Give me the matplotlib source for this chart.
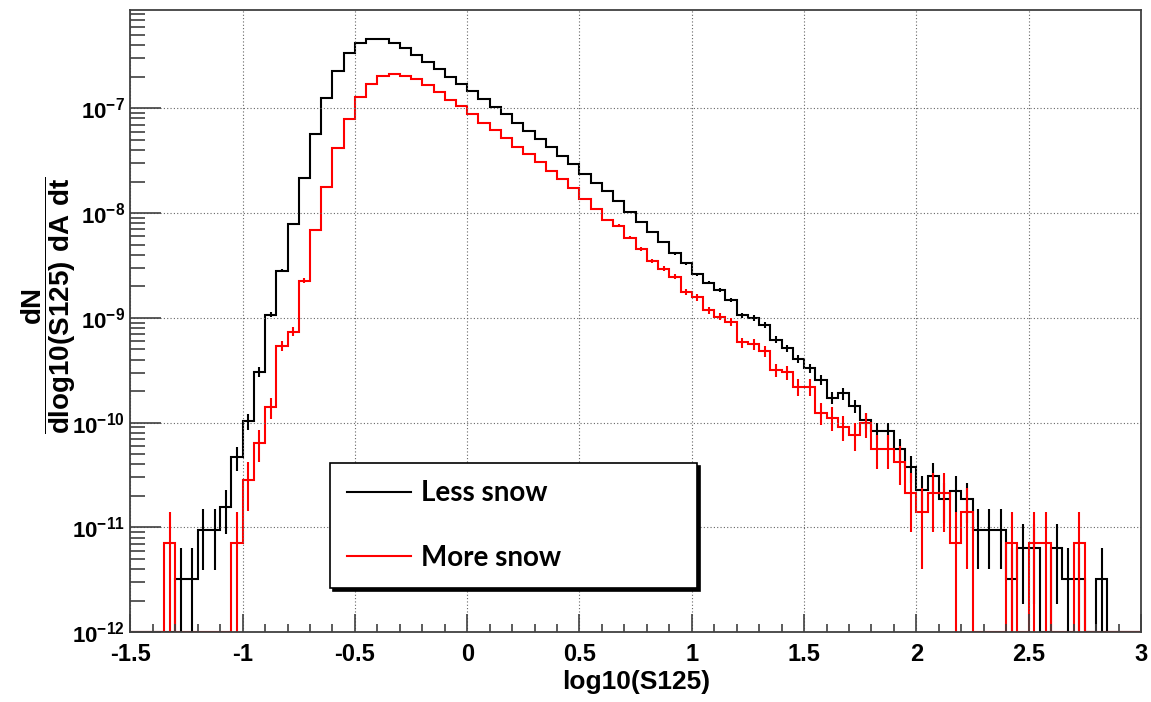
import numpy as np
import matplotlib.pyplot as plt
from matplotlib.ticker import MultipleLocator, LogLocator, FixedLocator, FuncFormatter, NullFormatter

plt.rcParams['font.family'] = 'Liberation Sans'
plt.rcParams['font.weight'] = 'bold'
plt.rcParams['axes.labelweight'] = 'bold'
plt.rcParams['mathtext.fontset'] = 'custom'
plt.rcParams['mathtext.bf'] = 'Liberation Sans:bold'
plt.rcParams['mathtext.rm'] = 'Liberation Sans:bold'
plt.rcParams['mathtext.default'] = 'bf'

# histogram binning in log10(S125): 90 bins of 0.05 from -1.5 to 3
bin_edges = np.round(np.linspace(-1.5, 3.0, 91), 3)

# dN / (dlog10(S125) dA dt), one value per bin (0 = empty bin)
less_snow = [
    0, 0, 0, 0, 3.2e-12, 3.2e-12, 9.4e-12, 9.4e-12, 1.58e-11, 4.7e-11,
    1.04e-10, 3.07e-10, 1.07e-9, 2.82e-9, 7.87e-9, 2.18e-8, 5.69e-8, 1.24e-7, 2.29e-7, 3.35e-7,
    4.17e-7, 4.55e-7, 4.55e-7, 4.17e-7, 3.76e-7, 3.21e-7, 2.75e-7, 2.35e-7, 1.99e-7, 1.72e-7,
    1.45e-7, 1.22e-7, 1.02e-7, 8.77e-8, 7.2e-8, 6.07e-8, 5.13e-8, 4.24e-8, 3.53e-8, 2.94e-8,
    2.36e-8, 1.95e-8, 1.64e-8, 1.31e-8, 1.02e-8, 8.22e-9, 6.6e-9, 5.26e-9, 4.13e-9, 3.32e-9,
    2.61e-9, 2.17e-9, 1.85e-9, 1.48e-9, 1.06e-9, 1.0e-9, 8.55e-10, 6.2e-10, 5.13e-10, 4.03e-10,
    3.3e-10, 2.55e-10, 1.73e-10, 1.91e-10, 1.44e-10, 1.06e-10, 8.4e-11, 8.4e-11, 5.65e-11, 3.75e-11,
    2.28e-11, 3.1e-11, 1.88e-11, 2.25e-11, 1.87e-11, 9.46e-12, 9.46e-12, 9.46e-12, 3.2e-12, 6.34e-12,
    6.34e-12, 0, 6.34e-12, 3.2e-12, 3.2e-12, 0, 3.2e-12, 0, 0, 0,
]
more_snow = [
    0, 0, 0, 7.06e-12, 0, 0, 0, 0, 0, 7.06e-12,
    2.84e-11, 6.35e-11, 1.40e-10, 5.4e-10, 7.38e-10, 2.27e-9, 6.9e-9, 1.79e-8, 4.2e-8, 7.96e-8,
    1.27e-7, 1.72e-7, 2.03e-7, 2.14e-7, 2.03e-7, 1.89e-7, 1.68e-7, 1.43e-7, 1.2e-7, 1.04e-7,
    8.77e-8, 7.29e-8, 6.17e-8, 5.17e-8, 4.3e-8, 3.64e-8, 3.1e-8, 2.52e-8, 2.1e-8, 1.73e-8,
    1.36e-8, 1.1e-8, 8.59e-9, 7.58e-9, 5.82e-9, 4.54e-9, 3.52e-9, 2.95e-9, 2.47e-9, 1.78e-9,
    1.57e-9, 1.19e-9, 1.03e-9, 9.2e-10, 5.85e-10, 5.6e-10, 4.8e-10, 3.19e-10, 3.03e-10, 2.2e-10,
    2.2e-10, 1.24e-10, 1.12e-10, 9.16e-11, 7.64e-11, 9.86e-11, 5.57e-11, 5.57e-11, 4.25e-11, 2.12e-11,
    1.4e-11, 2.12e-11, 2.12e-11, 7.06e-12, 1.4e-11, 0, 0, 0, 7.06e-12, 0,
    7.06e-12, 7.06e-12, 0, 0, 7.06e-12, 0, 0, 0, 0, 0,
]

# weight of one event in each sample -> Poisson error = sqrt(N) * w
w_less = 3.17e-12
w_more = 7.06e-12

series = [('Less snow', less_snow, w_less, 'black'),
          ('More snow', more_snow, w_more, 'red')]

ymin, ymax = 1e-12, 8.67e-7

fig = plt.figure(figsize=(11.51, 7.02), dpi=100)
ax = fig.add_axes([0.1132, 0.0993, 0.8781, 0.8865])
ax.set_yscale('log')

centers = 0.5 * (bin_edges[1:] + bin_edges[:-1])
for label, vals, w, col in series:
    v = np.array(vals, dtype=float)
    ax.stairs(np.where(v > 0, v, ymin), bin_edges, color=col, lw=1.5,
              baseline=None, label=label)
    m = v > 0
    ax.errorbar(centers[m], v[m], yerr=np.sqrt(v[m] * w), fmt='none',
                ecolor=col, elinewidth=1.5)

ax.set_xlim(-1.5, 3)
ax.set_ylim(ymin, ymax)

ax.xaxis.set_major_locator(MultipleLocator(0.5))
ax.xaxis.set_minor_locator(MultipleLocator(0.1))
ax.xaxis.set_major_formatter(FuncFormatter(lambda x, p: '%g' % x))
ax.yaxis.set_major_locator(FixedLocator(10.0 ** np.arange(-12, -6)))
ax.yaxis.set_minor_locator(LogLocator(base=10, subs=np.arange(2, 10), numticks=20))
ax.yaxis.set_minor_formatter(NullFormatter())
ax.yaxis.set_major_formatter(FuncFormatter(lambda y, p: r'$10^{%d}$' % round(np.log10(y))))

ax.tick_params(which='both', direction='in', top=False, right=False, color='0.25')
ax.tick_params(axis='x', which='major', length=13, width=1.2, labelsize=17, pad=8)
ax.tick_params(axis='x', which='minor', length=6, width=1.2)
ax.tick_params(axis='y', which='major', length=22, width=1.2, labelsize=16, pad=4)
ax.tick_params(axis='y', which='minor', length=11, width=1.2)

ax.grid(True, which='major', color='0.4', ls=(0, (1, 2)), lw=0.8)
for s in ax.spines.values():
    s.set_linewidth(1.3)
    s.set_color('0.25')

ax.set_xlabel('log10(S125)', fontsize=19, fontweight='bold', va='top')
ax.xaxis.set_label_coords(0.501, -0.06)
ax.set_ylabel(r'$\dfrac{dN}{dlog10(S125)\ dA\ dt}$', fontsize=20, va='center')
ax.yaxis.set_label_coords(-0.081, 0.526)

leg = ax.legend(loc='upper left', bbox_to_anchor=(0.1976, 0.0712, 0.3631, 0.2008),
                mode='expand', borderaxespad=0,
                prop={'family': 'Lato', 'weight': 'bold', 'size': 20},
                fancybox=False, shadow={'color': 'black', 'alpha': 1},
                edgecolor='black', framealpha=1,
                handlelength=2.3, handletextpad=0.35, borderpad=0.62, labelspacing=1.38)
leg.get_frame().set_linewidth(1.2)

plt.savefig('out.png', dpi=100)
